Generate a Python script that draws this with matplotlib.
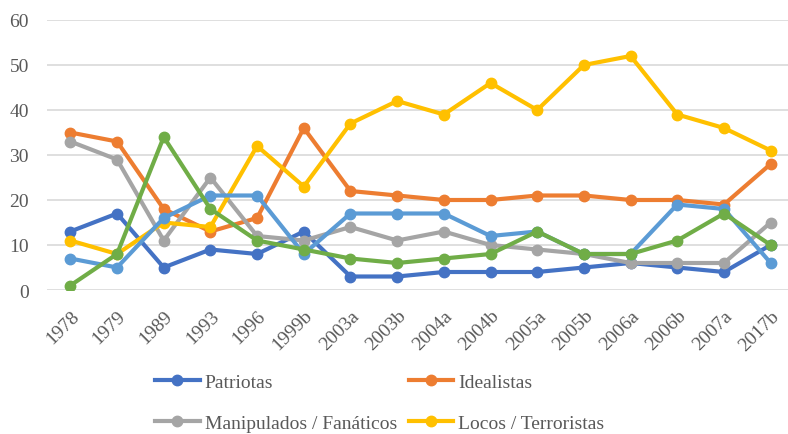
"""Line chart: categories of perpetrators by survey wave."""

import matplotlib
matplotlib.use('Agg')
import matplotlib.pyplot as plt

# Data.
waves = ['1978', '1979', '1989', '1993', '1996', '1999b', '2003a', '2003b',
         '2004a', '2004b', '2005a', '2005b', '2006a', '2006b', '2007a', '2017b']
patriotas = [13, 17, 5, 9, 8, 13, 3, 3, 4, 4, 4, 5, 6, 5, 4, 10]
idealistas = [35, 33, 18, 13, 16, 36, 22, 21, 20, 20, 21, 21, 20, 20, 19, 28]
manipulados = [33, 29, 11, 25, 12, 11, 14, 11, 13, 10, 9, 8, 6, 6, 6, 15]
locos = [11, 8, 15, 14, 32, 23, 37, 42, 39, 46, 40, 50, 52, 39, 36, 31]
serie5 = [7, 5, 16, 21, 21, 8, 17, 17, 17, 12, 13, 8, 8, 19, 18, 6]
serie6 = [1, 8, 34, 18, 11, 9, 7, 6, 7, 8, 13, 8, 8, 11, 17, 10]

plt.rcParams['font.family'] = ['Liberation Serif', 'DejaVu Serif']

fig = plt.figure(figsize=(7.88, 4.35), dpi=100)
# plot area: x from 47 px, 0 at y=291, 60 at y=21 (right side cut by figure)
ax = fig.add_axes([47 / 788, 1 - 291 / 435, 747 / 788, 270 / 435])

x = range(len(waves))
series = [
    (patriotas, '#4472C4', 'Patriotas'),
    (idealistas, '#ED7D31', 'Idealistas'),
    (manipulados, '#A5A5A5', 'Manipulados / Fanáticos'),
    (locos, '#FFC000', 'Locos / Terroristas'),
    (serie5, '#5B9BD5', '_s5'),
    (serie6, '#70AD47', '_s6'),
]
h = {}
for vals, col, lab in series:
    line, = ax.plot(x, vals, color=col, linewidth=3, marker='o',
                    markersize=7.5, label=lab, solid_joinstyle='round')
    h[lab] = line

ax.set_ylim(0, 60)
ax.set_xlim(-0.5, 15.5)
ax.set_yticks(range(0, 61, 10))
ax.set_xticks(list(x))
ax.set_xticklabels(waves, rotation=45, ha='right', rotation_mode='anchor')
ax.tick_params(length=0, labelsize=14, labelcolor='#595959')
ax.tick_params(axis='y', pad=13)
ax.tick_params(axis='x', pad=12)
ax.grid(axis='y', color='#D9D9D9', linewidth=1.2)
ax.set_axisbelow(True)
for s in ax.spines.values():
    s.set_visible(False)

# legend order: row 1 Patriotas / Idealistas, row 2 Manipulados / Locos
order = ['Patriotas', 'Manipulados / Fanáticos', 'Idealistas', 'Locos / Terroristas']
fig.legend(handles=[h[k] for k in order], ncol=2, loc='upper left',
           bbox_to_anchor=(155 / 788, 1 - 374 / 435), frameon=False,
           fontsize=14, labelcolor='#595959', handlelength=2.3,
           handletextpad=0.25, columnspacing=0.6, labelspacing=1.2,
           borderaxespad=0, borderpad=0)

fig.savefig('out.png', dpi=100)
